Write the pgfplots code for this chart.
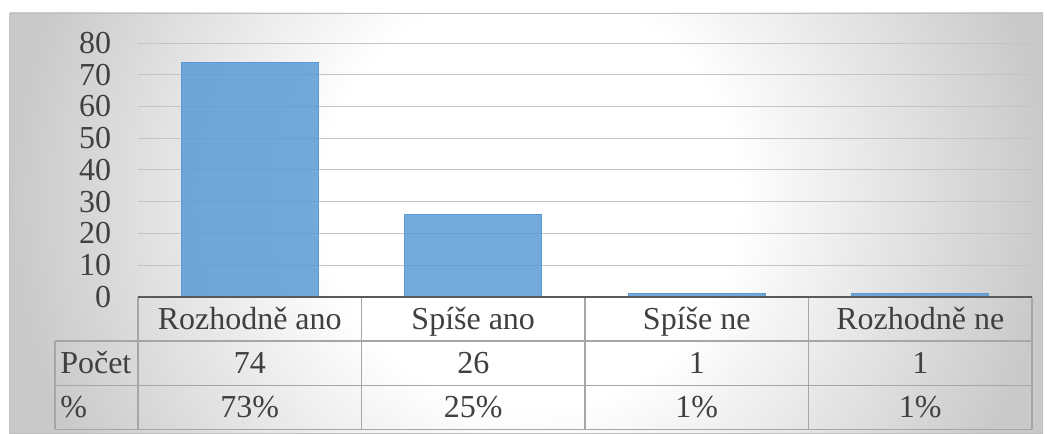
\documentclass[border=0pt]{standalone}
\usepackage{pgfplots}
\pgfplotsset{compat=1.18}
\usepackage{pgfplotstable}
\usepackage{fontspec}
\setmainfont{Liberation Serif}
\definecolor{txt}{RGB}{64,64,64}
\definecolor{barblue}{RGB}{91,155,213}
\definecolor{gridc}{RGB}{196,196,196}
\definecolor{tabline}{RGB}{166,166,166}
\definecolor{axisdark}{RGB}{89,89,89}
\definecolor{bgout}{RGB}{201,201,201}
\definecolor{framec}{RGB}{191,191,191}
\pgfdeclareradialshading{bgshade}{\pgfpoint{0bp}{0bp}}{color(0bp)=(white); color(10bp)=(white); color(25bp)=(bgout); color(50bp)=(bgout)}
\newcommand\tf{\fontsize{24}{28}\selectfont}
\pgfplotstableread{
x count
0 74
1 26
2 1
3 1
}\datatable
\begin{document}
\begin{tikzpicture}
\begin{scope}[x=0.75pt,y=-0.75pt,shift={(0pt,325.5pt)}]
  \begin{scope}
    \clip (9,13) rectangle (1043,434);
    \shade[shading=bgshade] (10,-320) rectangle (1050,720);
  \end{scope}
  \draw[framec, line width=0.75pt] (9.5,13.5) rectangle (1042.5,433.5);
\end{scope}
\begin{axis}[
  at={(103.5pt,102.75pt)}, anchor=south west,
  scale only axis, width=670.5pt, height=190.5pt,
  xmin=-0.5, xmax=3.5, ymin=0, ymax=80,
  ytick={0,10,...,80},
  xtick={0,1,2,3},
  xticklabels={Rozhodně ano, Spíše ano, Spíše ne, Rozhodně ne},
  axis line style={draw=none},
  major tick length=0pt,
  ymajorgrids,
  grid style={gridc, line width=0.75pt},
  /pgf/number format/assume math mode=true,
  tick label style={font=\tf, text=txt, inner sep=0pt},
  yticklabel style={anchor=east, xshift=-20pt},
  xticklabel style={anchor=base, yshift=-24.75pt},
  clip=false,
]
\addplot[ybar, bar width=0.611, bar shift=0pt, fill=barblue, fill opacity=0.85, draw=barblue, line width=0.75pt] table[x=x, y=count] {\datatable};
\end{axis}
\begin{scope}[x=0.75pt,y=-0.75pt,shift={(0pt,325.5pt)}]
  \draw[tabline, line width=1.1pt]
    (55,341) -- (1032,341)
    (55,385.5) -- (1032,385.5)
    (55,429.5) -- (1032,429.5)
    (55,341) -- (55,429.5)
    (138,297) -- (138,429.5)
    (361.5,297) -- (361.5,429.5)
    (585,297) -- (585,429.5)
    (808.5,297) -- (808.5,429.5)
    (1032,297) -- (1032,429.5);
  \draw[axisdark, line width=1.1pt] (138,297) -- (1032,297);
  \begin{scope}[every node/.style={font=\tf, text=txt, inner sep=0pt, anchor=base}]
    \node[anchor=base west] at (60,374) {Počet};
    \node[anchor=base west] at (60,418) {\%};
    \node at (249.75,374) {74};
    \node at (473.25,374) {26};
    \node at (696.75,374) {1};
    \node at (920.25,374) {1};
    \node at (249.75,418) {73\%};
    \node at (473.25,418) {25\%};
    \node at (696.75,418) {1\%};
    \node at (920.25,418) {1\%};
  \end{scope}
\end{scope}
\pgfresetboundingbox
\path (0pt,0pt) rectangle (785.25pt,325.5pt);
\end{tikzpicture}
\end{document}
